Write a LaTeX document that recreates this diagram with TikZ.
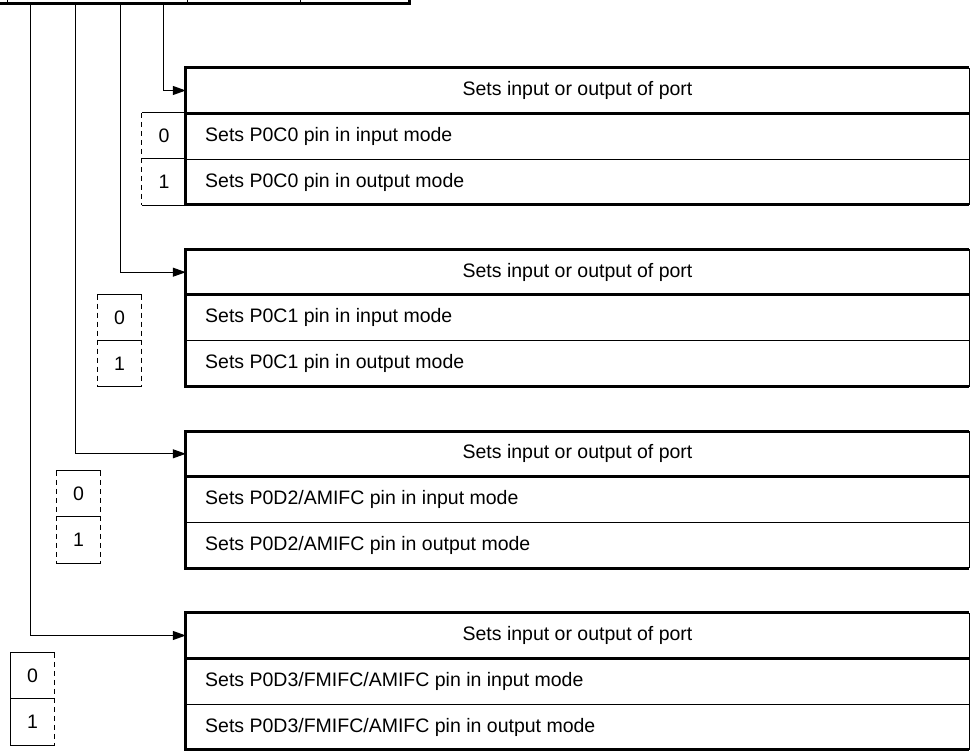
\documentclass[tikz,border=0pt]{standalone}
\usepackage{fontspec}
\setmainfont{Liberation Sans}
\usetikzlibrary{arrows.meta}
\tikzset{
  thickln/.style={line width=3pt},
  thinln/.style={line width=1pt},
  conn/.style={line width=1pt,-{Triangle[length=13pt,width=9pt]}},
  dashln/.style={line width=1pt,dash pattern=on 5pt off 4pt},
  txtfont/.style={font=\fontsize{19.5}{23}\selectfont},
  hdr/.style={txtfont,minimum width=783pt,minimum height=45pt,inner sep=0pt},
  rowtxt/.style={txtfont,anchor=west,inner sep=0pt},
  bit/.style={txtfont,minimum width=44pt,minimum height=46pt,inner sep=0pt}
}
\begin{document}
\begin{tikzpicture}[x=1pt,y=-1pt]
\useasboundingbox (0,0) rectangle (971,751);
% register (cut off at the top)
\draw[thickln] (0,4) -- (409,4) -- (409,-6);
\draw[thinln] (7,-6) -- (7,4) (187,-6) -- (187,4) (300,-6) -- (300,4);
\coordinate (r1) at (163,5.5);
\coordinate (r2) at (120,5.5);
\coordinate (r3) at (75,5.5);
\coordinate (r4) at (30,5.5);

% ---------- box 1 (top 68) ----------
\node[hdr] (h1) at (577.5,90.5) {Sets input or output of port};
\draw[thickln] (h1.north east) -- (h1.north west) -- ++(0,137) -- ++(783,0);
\draw[thickln] (h1.south west) -- (h1.south east);
\draw[thinln] (h1.north east) -- ++(0,137);
\draw[thinln] (h1.south west) ++(0,46) -- ++(783,0);
\node[rowtxt] (t1a) at (205,136) {Sets P0C0 pin in input mode};
\node[rowtxt] (t1b) at (205,182) {Sets P0C0 pin in output mode};
\node[bit] (b1a) at (164,136) {0};
\node[bit] (b1b) at (164,182) {1};
\draw[thinln] (b1a.north west) -- (b1a.north east) (b1b.north west) -- (b1b.north east) (b1b.south west) -- (b1b.south east);
\draw[dashln] (b1a.north west) -- (b1b.south west);
\draw[conn] (r1) |- (h1.west);

% ---------- box 2 (top 249.7) ----------
\node[hdr] (h2) at (577.5,272.2) {Sets input or output of port};
\draw[thickln] (h2.north east) -- (h2.north west) -- ++(0,137) -- ++(783,0);
\draw[thickln] (h2.south west) -- (h2.south east);
\draw[thinln] (h2.north east) -- ++(0,137);
\draw[thinln] (h2.south west) ++(0,46) -- ++(783,0);
\node[rowtxt] (t2a) at (205,317.7) {Sets P0C1 pin in input mode};
\node[rowtxt] (t2b) at (205,363.7) {Sets P0C1 pin in output mode};
\node[bit] (b2a) at (119.5,317.7) {0};
\node[bit] (b2b) at (119.5,363.7) {1};
\draw[thinln] (b2a.north west) -- (b2a.north east) (b2b.north west) -- (b2b.north east) (b2b.south west) -- (b2b.south east);
\draw[dashln] (b2a.north west) -- (b2b.south west) (b2a.north east) -- (b2b.south east);
\draw[conn] (r2) |- (h2.west);

% ---------- box 3 (top 431.3) ----------
\node[hdr] (h3) at (577.5,453.8) {Sets input or output of port};
\draw[thickln] (h3.north east) -- (h3.north west) -- ++(0,137) -- ++(783,0);
\draw[thickln] (h3.south west) -- (h3.south east);
\draw[thinln] (h3.north east) -- ++(0,137);
\draw[thinln] (h3.south west) ++(0,46) -- ++(783,0);
\node[rowtxt] (t3a) at (205,499.3) {Sets P0D2/AMIFC pin in input mode};
\node[rowtxt] (t3b) at (205,545.3) {Sets P0D2/AMIFC pin in output mode};
\node[bit] (b3a) at (78.5,494) {0};
\node[bit] (b3b) at (78.5,540) {1};
\draw[thinln] (b3a.north west) -- (b3a.north east) (b3b.north west) -- (b3b.north east) (b3b.south west) -- (b3b.south east);
\draw[dashln] (b3a.north west) -- (b3b.south west) (b3a.north east) -- (b3b.south east);
\draw[conn] (r3) |- (h3.west);

% ---------- box 4 (top 613) ----------
\node[hdr] (h4) at (577.5,635.5) {Sets input or output of port};
\draw[thickln] (h4.north east) -- (h4.north west) -- ++(0,137) -- ++(783,0);
\draw[thickln] (h4.south west) -- (h4.south east);
\draw[thinln] (h4.north east) -- ++(0,137);
\draw[thinln] (h4.south west) ++(0,46) -- ++(783,0);
\node[rowtxt] (t4a) at (205,681) {Sets P0D3/FMIFC/AMIFC pin in input mode};
\node[rowtxt] (t4b) at (205,727) {Sets P0D3/FMIFC/AMIFC pin in output mode};
\node[bit] (b4a) at (32.5,676) {0};
\node[bit] (b4b) at (32.5,722) {1};
\draw[thinln] (b4a.north west) -- (b4a.north east) (b4b.north west) -- (b4b.north east) (b4b.south west) -- (b4b.south east);
\draw[thinln] (b4a.north west) -- (b4b.south west);
\draw[dashln] (b4a.north east) -- (b4b.south east);
\draw[conn] (r4) |- (h4.west);
\end{tikzpicture}
\end{document}
